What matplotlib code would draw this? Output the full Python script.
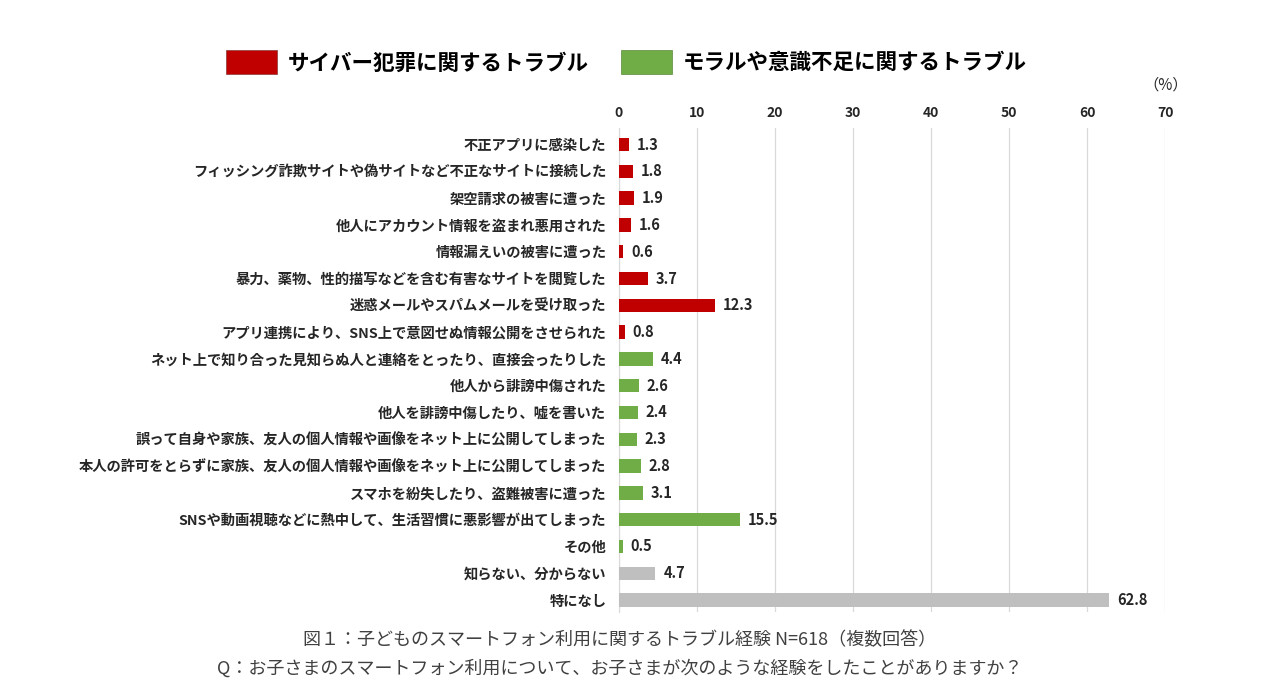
import matplotlib
matplotlib.use("Agg")
import matplotlib.pyplot as plt
from matplotlib.patches import Patch

plt.rcParams['font.family'] = ['Noto Sans CJK JP', 'DejaVu Sans']

categories = [
    "不正アプリに感染した",
    "フィッシング詐欺サイトや偽サイトなど不正なサイトに接続した",
    "架空請求の被害に遭った",
    "他人にアカウント情報を盗まれ悪用された",
    "情報漏えいの被害に遭った",
    "暴力、薬物、性的描写などを含む有害なサイトを閲覧した",
    "迷惑メールやスパムメールを受け取った",
    "アプリ連携により、SNS上で意図せぬ情報公開をさせられた",
    "ネット上で知り合った見知らぬ人と連絡をとったり、直接会ったりした",
    "他人から誹謗中傷された",
    "他人を誹謗中傷したり、嘘を書いた",
    "誤って自身や家族、友人の個人情報や画像をネット上に公開してしまった",
    "本人の許可をとらずに家族、友人の個人情報や画像をネット上に公開してしまった",
    "スマホを紛失したり、盗難被害に遭った",
    "SNSや動画視聴などに熱中して、生活習慣に悪影響が出てしまった",
    "その他",
    "知らない、分からない",
    "特になし",
]
values = [1.3, 1.8, 1.9, 1.6, 0.6, 3.7, 12.3, 0.8,
          4.4, 2.6, 2.4, 2.3, 2.8, 3.1, 15.5, 0.5, 4.7, 62.8]
groups = ["cyber"] * 8 + ["moral"] * 8 + ["other"] * 2
legend_labels = ["サイバー犯罪に関するトラブル", "モラルや意識不足に関するトラブル"]
xticks = [0, 10, 20, 30, 40, 50, 60, 70]
caption1 = "図１：子どものスマートフォン利用に関するトラブル経験 N=618（複数回答）"
caption2 = "Q：お子さまのスマートフォン利用について、お子さまが次のような経験をしたことがありますか？"

colors = {"cyber": "#C00000", "moral": "#70AD47", "other": "#BFBFBF"}

fig = plt.figure(figsize=(12.68, 6.98), dpi=100)
ax = fig.add_axes([0.488, 0.123, 0.919 - 0.488, 0.816 - 0.123])

y = list(range(len(categories)))
ax.barh(y, values, height=0.5, color=[colors[g] for g in groups], zorder=3)
for yi, v in zip(y, values):
    ax.text(v + 1.0, yi, f"{v}", va="center", ha="left", fontsize=10.5,
            fontweight="bold", color="#262626")

ax.set_xlim(0, 70)
ax.set_ylim(len(categories) - 0.55, -0.6)
ax.set_xticks(xticks)
ax.xaxis.tick_top()
ax.tick_params(axis="x", length=0, pad=6, labelsize=10, labelcolor="#262626")
for lab in ax.get_xticklabels():
    lab.set_fontweight("bold")
ax.set_yticks(y)
ax.set_yticklabels(categories, fontsize=10.3, fontweight="bold", color="#262626")
ax.tick_params(axis="y", length=0, pad=9)
ax.grid(axis="x", color="#D9D9D9", linewidth=0.9, zorder=0)
for s in ["top", "right", "bottom"]:
    ax.spines[s].set_visible(False)
ax.spines["left"].set_color("#D9D9D9")

handles = [Patch(facecolor=colors["cyber"], edgecolor="#8B3A3A", linewidth=0.5),
           Patch(facecolor=colors["moral"], edgecolor="#5A8A3A", linewidth=0.5)]
fig.legend(handles, legend_labels, loc="center", bbox_to_anchor=(0.494, 0.911),
           ncol=2, frameon=False, handlelength=2.35, handleheight=1.3,
           columnspacing=1.5, handletextpad=0.5,
           prop={"size": 15.5, "weight": "bold"})

fig.text(1166 / 1268, 1 - 85 / 698, "（%）", ha="center", va="center",
         fontsize=11, color="#262626")
fig.text(620 / 1268, 1 - 640 / 698, caption1, ha="center", va="center",
         fontsize=13, color="#404040")
fig.text(620 / 1268, 1 - 668 / 698, caption2, ha="center", va="center",
         fontsize=13, color="#404040")

fig.savefig("out.png", dpi=100)
